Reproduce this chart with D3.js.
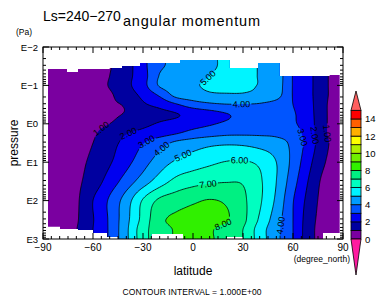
<!DOCTYPE html>
<html><head><meta charset="utf-8">
<script src="https://cdn.jsdelivr.net/npm/d3@7/dist/d3.min.js"></script>
<style>
html,body{margin:0;padding:0;background:#fff;overflow:hidden}
svg{display:block}
text{font-family:"Liberation Sans",Arial,Helvetica,sans-serif;fill:#000}
</style></head><body>
<svg id="chart" width="376" height="302"></svg>
<script>
// ---------------- data ----------------
const latitudes = d3.range(-90, 91, 10);
const logPressure = [-1.75,-1.5,-1.25,-1,-0.75,-0.5,-0.25,0,0.25,0.5,1,1.5,2,2.5,2.75,3];
const am_m175 = [0.1,0.3,0.55,0.75,0.95,1.6,2.7,3.85,4.15,4.5,4.85,5.15,5.25,4.95,4.6,2.95,2.2,1.1,0.4];
const am_m150 = [0.1,0.3,0.55,0.75,0.95,1.6,2.7,3.85,4.15,4.5,4.85,5.15,5.25,4.95,4.6,2.95,2.2,1.1,0.4];
const am_m125 = [0.1,0.3,0.55,0.75,1.0,1.7,2.6,4.05,4.3,4.65,5.0,5.2,5.25,4.95,4.6,2.95,2.2,1.1,0.4];
const am_m100 = [0.1,0.3,0.55,0.75,1.05,1.75,2.65,4.1,4.5,4.9,5.1,5.2,5.15,4.95,4.55,2.95,2.2,1.1,0.4];
const am_m075 = [0.1,0.3,0.55,0.75,0.9,1.5,2.25,3.15,4.3,4.6,4.85,4.9,4.9,4.75,4.4,2.95,2.2,1.1,0.4];
const am_m050 = [0.1,0.3,0.55,0.75,0.92,1.1,1.85,2.3,2.9,3.5,3.8,3.95,3.95,3.9,3.6,3.0,2.25,1.05,0.4];
const am_m025 = [0.1,0.3,0.55,0.75,0.9,1.05,1.35,1.7,1.95,2.3,2.6,2.95,3.25,3.4,3.4,3.1,2.3,1.05,0.4];
const am_p000 = [0.1,0.3,0.55,0.8,1.0,1.35,1.75,2.1,2.35,2.65,2.9,3.15,3.4,3.5,3.5,3.15,2.35,1.05,0.4];
const am_p025 = [0.1,0.3,0.6,0.9,1.39,1.95,2.3,2.6,2.95,3.35,3.6,3.8,3.85,3.85,3.8,3.5,2.4,1.05,0.4];
const am_p050 = [0.1,0.35,0.7,1.0,1.65,2.3,2.95,3.6,4.2,4.5,4.75,4.85,4.8,4.6,4.35,3.75,2.5,1.15,0.4];
const am_p100 = [0.1,0.4,0.75,1.2,1.9,2.7,3.6,4.5,5.15,5.5,5.8,6.05,6.1,5.8,5.0,3.7,2.2,0.95,0.3];
const am_p150 = [0.15,0.45,0.8,1.47,2.43,3.45,4.5,5.5,6.3,6.65,6.85,6.95,6.9,6.15,5.0,3.4,1.85,0.6,0.2];
const am_p200 = [0.15,0.5,0.85,2.0,3.15,4.5,6.1,7.2,7.55,7.85,8.05,7.85,7.2,6.15,4.8,3.05,1.6,0.5,0.2];
const am_p250 = [0.15,0.5,0.9,1.95,3.15,4.7,6.35,7.75,8.2,8.35,8.3,8.1,7.25,5.85,4.45,3.0,1.4,0.5,0.2];
const am_p275 = [0.2,0.5,0.97,2.0,3.14,4.79,6.6,7.55,8.1,8.3,8.1,7.64,7.0,5.52,4.28,3.0,1.33,0.5,0.2];
const am_p300 = [0.2,0.5,0.97,2.0,3.14,4.79,6.6,7.55,8.1,8.3,8.1,7.64,7.0,5.52,4.28,3.0,1.33,0.5,0.2];

// data-region limits (model top / surface), pressure in Pa
const topEdgeLat = [-87,-75.6,-69,-50,-42.6,-31.8,-7.8,22,39,52,82,88];
const topEdgePa  = [0.0374,0.0448,0.0374,0.0352,0.0313,0.0261,0.0218,0.0352,0.0261,0.0569,0.0536];
const botEdgeLat = [-87,-79.8,-69,-60,-51.6,-45,-25,-6,20,30,78,88];
const botEdgePa  = [479,550,583,698,887,1000,741,1000,887,1000,698];

const contourLevels = d3.range(1, 15);
const bandColors = ["#7a00a0","#0000a0","#0000f0","#0055ff","#009cff","#00f4ff","#00ffc0","#00f082",
                    "#30f000","#70f000","#b0f000","#ffff00","#ffb000","#ff6000","#ff0000"];
const overColor = "#ff6060", underColor = "#ff1aa0";
const xTickValues = [-90,-60,-30,0,30,60,90];
const yTickExp = [-2,-1,0,1,2,3];
const cbTicks = [0,2,4,6,8,10,12,14];
// contour label anchors: [level, latitude, log10 p]
const labelSpots = [[1,-55.8,0.11],[2,-39,0.24],[3,-27.6,0.5],[4,-18,0.68],[5,-6,0.81],
  [5,7.2,-1.27],[4,29.4,-0.49],[6,28.2,0.94],[7,9,1.52],[8,17.4,2.5],[4,51,2.64],
  [3,67.2,0.34],[2,74.4,0.29],[1,80.4,0.24]];

// ---------------- scales ----------------
const svg = d3.select("#chart");
const X = d3.scaleLinear([-90,90],[43,343]);
const YL = d3.scaleLinear([-2,3],[47,239]);
const YP = d3.scaleLog([0.01,1000],[47,239]);
const CB = d3.scaleLinear([0,15],[239,110.4]);

function herm(xs, ys, xv){
  const n = xs.length;
  let i = d3.bisectRight(xs, xv) - 1; i = Math.max(0, Math.min(n-2, i));
  const h = xs[i+1]-xs[i], t = (xv-xs[i])/h;
  const m = k => k<=0 ? (ys[1]-ys[0])/(xs[1]-xs[0]) : k>=n-1 ? (ys[n-1]-ys[n-2])/(xs[n-1]-xs[n-2])
                    : (ys[k+1]-ys[k-1])/(xs[k+1]-xs[k-1]);
  const t2=t*t, t3=t2*t;
  return (2*t3-3*t2+1)*ys[i] + (t3-2*t2+t)*h*m(i) + (-2*t3+3*t2)*ys[i+1] + (t3-t2)*h*m(i+1);
}
const rows = [am_m175,am_m150,am_m125,am_m100,am_m075,am_m050,am_m025,am_p000,am_p025,am_p050,am_p100,am_p150,am_p200,am_p250,am_p275,am_p300];
const nx=181, ny=191, lat0=-90, dlat=1, lp0=-1.75, dlp=0.025;
const fineLat = d3.range(nx).map(i=>lat0+i*dlat);
const fineLp = d3.range(ny).map(j=>lp0+j*dlp);
const rowFine = rows.map(r=>fineLat.map(la=>herm(latitudes,r,la)));
const grid = new Float64Array(nx*ny);
for(let i=0;i<nx;i++){
  const col = rowFine.map(r=>r[i]);
  for(let j=0;j<ny;j++) grid[j*nx+i] = herm(logPressure, col, fineLp[j]);
}
const toPix = (gx,gy) => [X(lat0+(gx-0.5)*dlat), YL(lp0+(gy-0.5)*dlp)];
const geo = d3.geoPath(d3.geoTransform({point(a,b){const p=toPix(a,b); this.stream.point(p[0],p[1]);}}));
const gen = d3.contours().size([nx,ny]);

// ---------------- clip of data region ----------------
const poly = [];
for(let i=0;i<topEdgePa.length;i++){ poly.push([X(topEdgeLat[i]),YP(topEdgePa[i])]); poly.push([X(topEdgeLat[i+1]),YP(topEdgePa[i])]); }
for(let i=botEdgePa.length-1;i>=0;i--){ poly.push([X(botEdgeLat[i+1]),YP(botEdgePa[i])]); poly.push([X(botEdgeLat[i]),YP(botEdgePa[i])]); }
const defs = svg.append("defs");
defs.append("clipPath").attr("id","dataClip").append("path").attr("d","M"+poly.join("L")+"Z");

// fills
const gFill = svg.append("g").attr("clip-path","url(#dataClip)");
gFill.append("rect").attr("x",40).attr("y",40).attr("width",310).attr("height",210).attr("fill",bandColors[0]);
const contourSets = contourLevels.map(t=>gen.contour(grid,t));
gFill.selectAll("path.band").data(contourSets).join("path").attr("class","band")
  .attr("d",d=>geo(d)).attr("fill",(d,i)=>bandColors[i+1]).attr("stroke","none");

// labels
const labels = [];
labelSpots.forEach(([lev,la,lp])=>{
  const tx=X(la), ty=YL(lp);
  const c = contourSets[lev-1];
  let best=null, bd=1e9;
  c.coordinates.forEach(polyg=>polyg.forEach(ring=>{
    const pts = ring.map(p=>toPix(p[0],p[1]));
    pts.forEach((p,k)=>{const d=(p[0]-tx)**2+(p[1]-ty)**2; if(d<bd){bd=d; best={pts,k};}});
  }));
  if(!best) return;
  const {pts,k}=best, n=pts.length;
  const a=pts[(k-3+n)%n], b=pts[(k+3)%n];
  let ang = Math.atan2(b[1]-a[1], b[0]-a[0])*180/Math.PI;
  if(ang>90) ang-=180; if(ang<=-90) ang+=180;
  labels.push({x:pts[k][0], y:pts[k][1], ang, text:lev.toFixed(2)});
});
const mask = defs.append("mask").attr("id","lblMask").attr("maskUnits","userSpaceOnUse")
  .attr("x",0).attr("y",0).attr("width",376).attr("height",302);
mask.append("rect").attr("width",376).attr("height",302).attr("fill","#fff");
mask.selectAll("rect.l").data(labels).join("rect").attr("class","l")
  .attr("x",-10).attr("y",-4.5).attr("width",20).attr("height",9).attr("fill","#000")
  .attr("transform",d=>`translate(${d.x},${d.y}) rotate(${d.ang})`);

const gLine = svg.append("g").attr("clip-path","url(#dataClip)").append("g").attr("mask","url(#lblMask)");
gLine.selectAll("path").data(contourSets).join("path").attr("d",d=>geo(d))
  .attr("fill","none").attr("stroke","#000").attr("stroke-width",0.8);
svg.append("g").selectAll("text").data(labels).join("text")
  .attr("transform",d=>`translate(${d.x},${d.y}) rotate(${d.ang})`)
  .attr("text-anchor","middle").attr("dy","0.35em").attr("font-size",9).text(d=>d.text);

// ---------------- axes ----------------
const gAx = svg.append("g").attr("stroke","#000").attr("stroke-width",1);
gAx.append("rect").attr("x",43).attr("y",47).attr("width",300).attr("height",192).attr("fill","none");
const xMinor = d3.range(-90,91,5);
const yMinor = [];
yTickExp.slice(0,-1).forEach(e=>{for(let k=2;k<10;k++) yMinor.push(k*Math.pow(10,e));});
const tickLen = v => xTickValues.includes(v) ? 6 : 3;
gAx.selectAll("line.xb").data(xMinor).join("line").attr("class","xb")
  .attr("x1",d=>X(d)).attr("x2",d=>X(d)).attr("y1",239).attr("y2",d=>239-tickLen(d));
gAx.selectAll("line.xt").data(xMinor).join("line").attr("class","xt")
  .attr("x1",d=>X(d)).attr("x2",d=>X(d)).attr("y1",47).attr("y2",d=>47+tickLen(d));
const yMajorP = yTickExp.map(e=>Math.pow(10,e));
gAx.selectAll("line.yl").data(yMajorP).join("line").attr("class","yl")
  .attr("y1",d=>YP(d)).attr("y2",d=>YP(d)).attr("x1",43).attr("x2",49);
gAx.selectAll("line.yr").data(yMajorP).join("line").attr("class","yr")
  .attr("y1",d=>YP(d)).attr("y2",d=>YP(d)).attr("x1",343).attr("x2",337);
gAx.selectAll("line.ylm").data(yMinor).join("line").attr("class","ylm")
  .attr("y1",d=>YP(d)).attr("y2",d=>YP(d)).attr("x1",43).attr("x2",46);
gAx.selectAll("line.yrm").data(yMinor).join("line").attr("class","yrm")
  .attr("y1",d=>YP(d)).attr("y2",d=>YP(d)).attr("x1",343).attr("x2",340);

const fmtLat = d => d<0 ? "\u2212"+Math.abs(d) : String(d);
svg.append("g").selectAll("text").data(xTickValues).join("text")
  .attr("x",d=>X(d)).attr("y",251).attr("text-anchor","middle").attr("font-size",10).text(fmtLat);
svg.append("g").selectAll("text").data(yTickExp).join("text")
  .attr("x",38).attr("y",e=>YL(e)+3.5).attr("text-anchor","end").attr("font-size",9.5)
  .text(e=> e<0 ? "E\u2212"+Math.abs(e) : "E"+e);

svg.append("text").attr("x",43).attr("y",21).attr("font-size",14).text("Ls=240\u2212270");
svg.append("text").attr("x",123).attr("y",26).attr("font-size",14.5).attr("textLength",137).text("angular momentum");
svg.append("text").attr("x",24).attr("y",35).attr("text-anchor","middle").attr("font-size",8.5).text("(Pa)");
svg.append("text").attr("transform","translate(18,143) rotate(-90)").attr("text-anchor","middle").attr("font-size",12).text("pressure");
svg.append("text").attr("x",193).attr("y",275).attr("text-anchor","middle").attr("font-size",12).text("latitude");
svg.append("text").attr("x",350).attr("y",262).attr("text-anchor","end").attr("font-size",8.5).text("(degree_north)");
svg.append("text").attr("x",192).attr("y",295).attr("text-anchor","middle").attr("font-size",8.5).attr("textLength",139).text("CONTOUR INTERVAL = 1.000E+00");

// ---------------- colorbar ----------------
const gCb = svg.append("g");
gCb.selectAll("rect").data(bandColors).join("rect")
  .attr("x",351).attr("width",10).attr("y",(d,i)=>CB(i+1)).attr("height",(d,i)=>CB(i)-CB(i+1))
  .attr("fill",d=>d).attr("stroke","#000").attr("stroke-width",0.8);
gCb.append("path").attr("d",`M351,${CB(15)}L361,${CB(15)}L356,91Z`).attr("fill",overColor).attr("stroke","#000").attr("stroke-width",0.8);
gCb.append("path").attr("d",`M351,${CB(0)}L361,${CB(0)}L356,275Z`).attr("fill",underColor).attr("stroke","#000").attr("stroke-width",0.8);
gCb.selectAll("text").data(cbTicks).join("text").attr("x",365).attr("y",d=>CB(d)+3.5)
  .attr("font-size",9.5).text(d=>String(d));
</script>
</body></html>
